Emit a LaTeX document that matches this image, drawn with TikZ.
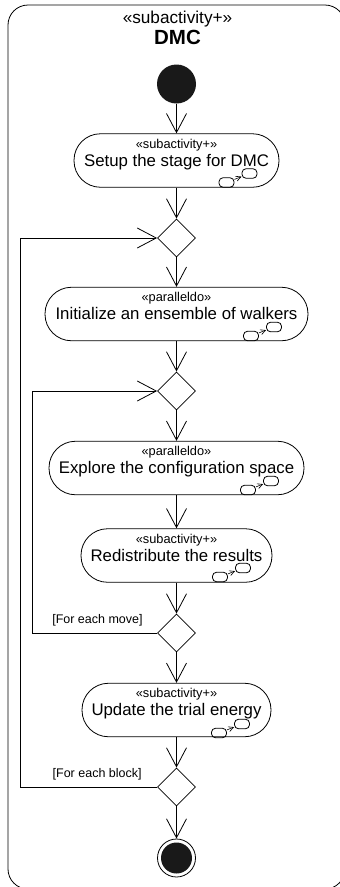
\documentclass[tikz,border=0pt]{standalone}
\usepackage{fontspec}
\setmainfont{Liberation Sans}
\usetikzlibrary{arrows.meta,
                calc,
                shapes.geometric}
\newcommand{\stereo}[1]{{\fontsize{12.8}{13}\selectfont «#1»}}
\tikzset{
	activity/.style={
			rectangle, rounded corners=26.5pt, draw, inner sep=0pt, minimum height=53.5pt,
			align=center, text depth=15.5pt,
			font=\fontsize{16.8}{17}\selectfont
		},
	decision/.style={
			diamond, draw, aspect=1, inner sep=0pt, minimum size=38pt
		},
	guard/.style={
			anchor=east, inner sep=0pt, font=\fontsize{12.5}{13}\selectfont
		},
	loopline/.style={
			-{Straight Barb[length=19pt, width=20pt]}
		},
	pics/rake/.style={
			code={
					\node (-a) [draw, rounded corners=4pt, minimum width=15pt, minimum height=9.5pt, inner sep=0pt] at (0,0) {};
					\node (-b) [draw, rounded corners=4pt, minimum width=15pt, minimum height=9.5pt, inner sep=0pt] at (23,-9) {};
					\draw [-{Straight Barb[length=5pt, width=5pt]}, line width=0.6pt] (-a) -- (-b);
				}
		}
}

\begin{document}
\begin{tikzpicture}[
x=1pt, y=-1pt,
line width=0.8pt,
every edge/.style = {draw, -{Straight Barb[length=19pt, width=20pt]}, line width=0.8pt, black},
			]

\useasboundingbox (0,0) rectangle (340,887);
\clip (0,0) rectangle (340,887);

\node (frame) [draw, rectangle, rounded corners=20pt, minimum width=337pt, minimum height=884pt, inner sep=0pt] at (176.5,447) {};
\node (title) [inner sep=0pt, align=center, font=\fontsize{17.2}{20}\selectfont] at (177.5,28)
      {«subactivity+»\\[1pt]{\fontsize{20.5}{20}\selectfont\bfseries DMC}};

\node (start) [circle, fill=black!90, minimum size=39pt, inner sep=0pt] at (176.5,84) {};
\node (setup) [activity, minimum width=205pt] at (176.5,160.5) {\stereo{subactivity+}\\[1pt]Setup the stage for DMC};
\node (dec1)  [decision] at (176.5,238) {};
\node (init)  [activity, minimum width=263pt] at (176.5,314) {\stereo{paralleldo}\\[1pt]Initialize an ensemble of walkers};
\node (dec2)  [decision] at (176.5,391) {};
\node (explore) [activity, minimum width=255pt] at (176.5,468) {\stereo{paralleldo}\\[1pt]Explore the configuration space};
\node (redist)  [activity, minimum width=191pt] at (176.5,555.5) {\stereo{subactivity+}\\[1pt]Redistribute the results};
\node (dec3)  [decision] at (176.5,633) {};
\node (update)  [activity, minimum width=189pt] at (176.5,710) {\stereo{subactivity+}\\[1pt]Update the trial energy};
\node (dec4)  [decision] at (176.5,787) {};
\node (stop)  [circle, draw, minimum size=38pt, inner sep=0pt] at (176.5,858) {};
\node (stopin) [circle, fill=black!90, minimum size=31pt, inner sep=0pt] at (stop) {};

\node (move)  [guard] at (143,620.5) {[For each move]};
\node (block) [guard] at (142,774.5) {[For each block]};

\pic (ico1) at (226.5,182.5) {rake};
\pic (ico2) at (251,336) {rake};
\pic (ico3) at (248,490) {rake};
\pic (ico4) at (220,577) {rake};
\pic (ico5) at (219,733) {rake};

\coordinate (blockturn) at (20.5,238);
\coordinate (moveturn)  at (32.5,391);

\draw   (start) edge (setup)
        (setup) edge (dec1)
        (dec1) edge (init)
        (init) edge (dec2)
        (dec2) edge (explore)
        (explore) edge (redist)
        (redist) edge (dec3)
        (dec3) edge (update)
        (update) edge (dec4)
        (dec4) edge (stop);
\draw [loopline] (dec3.west) -| (moveturn) -- (dec2.west);
\draw [loopline] (dec4.west) -| (blockturn) -- (dec1.west);
\end{tikzpicture}
\end{document}
